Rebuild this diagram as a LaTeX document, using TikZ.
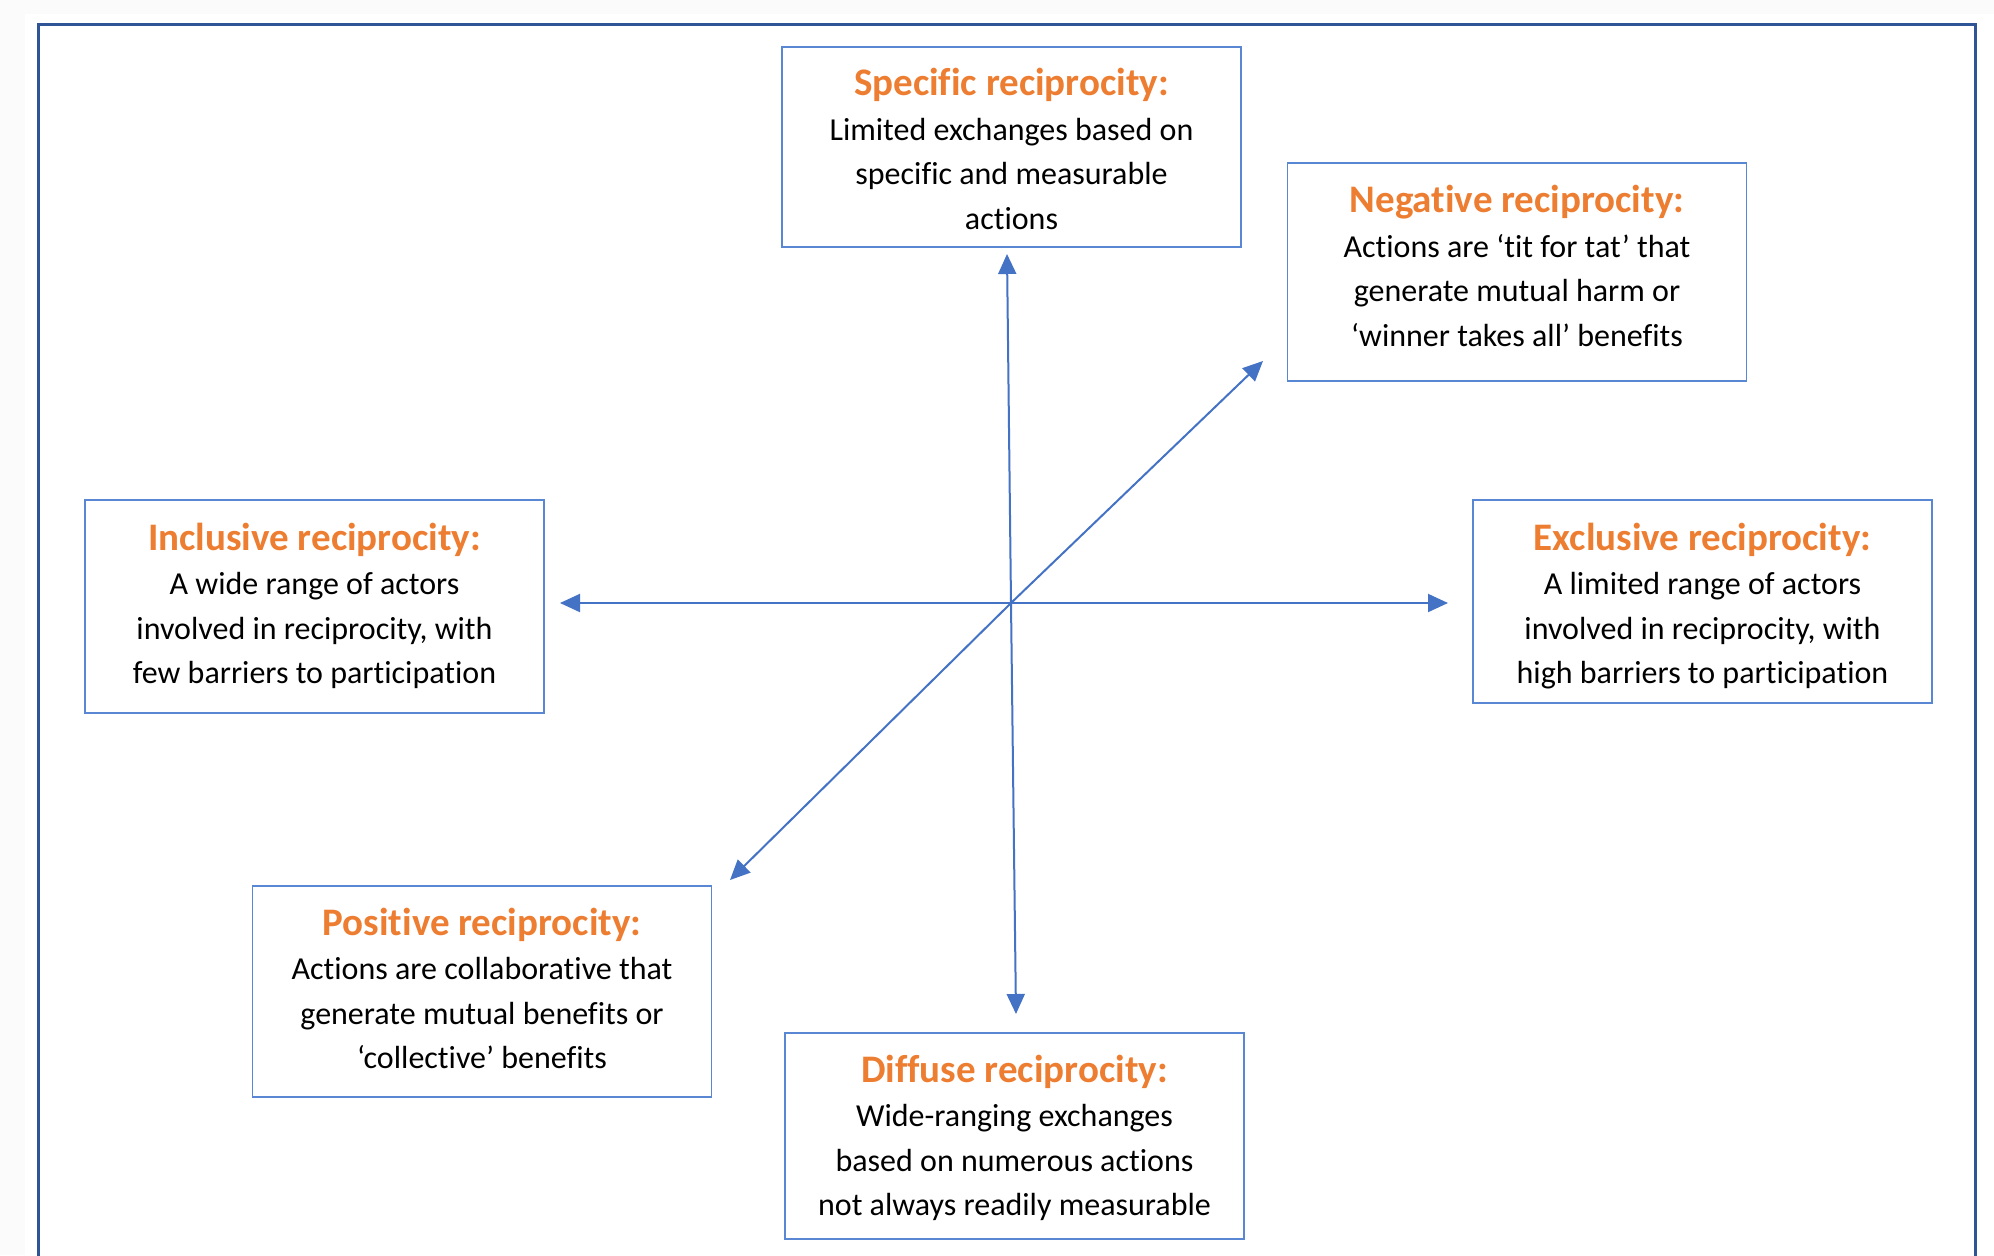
\documentclass[tikz,border=0pt]{standalone}
\usepackage{fontspec}
\setmainfont{Carlito}[Ligatures=NoCommon]
\usetikzlibrary{arrows.meta}
\definecolor{orng}{RGB}{237,125,49}
\definecolor{boxblue}{RGB}{90,135,212}
\definecolor{arrblue}{RGB}{68,114,196}
\definecolor{framec}{RGB}{47,85,151}
\definecolor{bggray}{RGB}{251,251,251}
\newcommand{\ttl}[1]{{\fontsize{19.5}{23.5}\selectfont\bfseries\color{orng}#1}}
\tikzset{
  recbox/.style={draw=boxblue, line width=0.9pt, fill=white,
    minimum width=229.5pt, inner sep=0pt},
  rectext/.style={align=center, inner sep=0pt, text=black,
    font=\fontsize{16}{22.25}\selectfont},
  arr/.style={draw=arrblue, line width=1pt, -{Triangle[length=10pt,width=9pt]}}
}
\begin{document}
\begin{tikzpicture}[x=0.5pt,y=-0.5pt]
\useasboundingbox (0,0) rectangle (1994,1255);
\clip (0,0) rectangle (1994,1255);
\fill[bggray] (0,0) rectangle (1994,1255);
\fill[white] (25,14) rectangle (1994,1255);
\draw[framec, line width=1.5pt] (38,1300) -- (38,24) -- (1975,24) -- (1975,1300);

\node[recbox, minimum height=100pt] (spec) at (1011.5,147) {};
\node[rectext] (specT) at (1011.5,149)
  {\ttl{Specific reciprocity:}\\Limited exchanges based on\\specific and measurable\\actions};
\node[recbox, minimum height=109pt] (neg) at (1517,272) {};
\node[rectext] (negT) at (1517,266)
  {\ttl{Negative reciprocity:}\\Actions are ‘tit for tat’ that\\generate mutual harm or\\‘winner takes all’ benefits};
\node[recbox, minimum height=106.5pt] (incl) at (314.5,606.5) {};
\node[rectext] (inclT) at (314.5,606)
  {\ttl{Inclusive reciprocity:}\\A wide range of actors\\involved in reciprocity, with\\few barriers to participation};
\node[recbox, minimum height=101.5pt] (excl) at (1702.5,601.5) {};
\node[rectext] (exclT) at (1702.5,606)
  {\ttl{Exclusive reciprocity:}\\A limited range of actors\\involved in reciprocity, with\\high barriers to participation};
\node[recbox, minimum height=105.5pt] (pos) at (482,991.5) {};
\node[rectext] (posT) at (482,988.5)
  {\ttl{Positive reciprocity:}\\Actions are collaborative that\\generate mutual benefits or\\‘collective’ benefits};
\node[recbox, minimum height=103pt] (diff) at (1014.5,1136) {};
\node[rectext] (diffT) at (1014.5,1138)
  {\ttl{Diffuse reciprocity:}\\Wide-ranging exchanges\\based on numerous actions\\not always readily measurable};

\coordinate (c) at (1011,603);
\coordinate (tipN) at (1007,254);
\coordinate (tipS) at (1016,1014);
\coordinate (tipW) at (560,603);
\coordinate (tipE) at (1448,603);
\coordinate (tipNE) at (1263,361);
\coordinate (tipSW) at (730,880);

\draw[arr] (c) -- (tipN);
\draw[arr] (c) -- (tipS);
\draw[arr] (c) -- (tipW);
\draw[arr] (c) -- (tipE);
\draw[arr] (c) -- (tipNE);
\draw[arr] (c) -- (tipSW);
\end{tikzpicture}
\end{document}
